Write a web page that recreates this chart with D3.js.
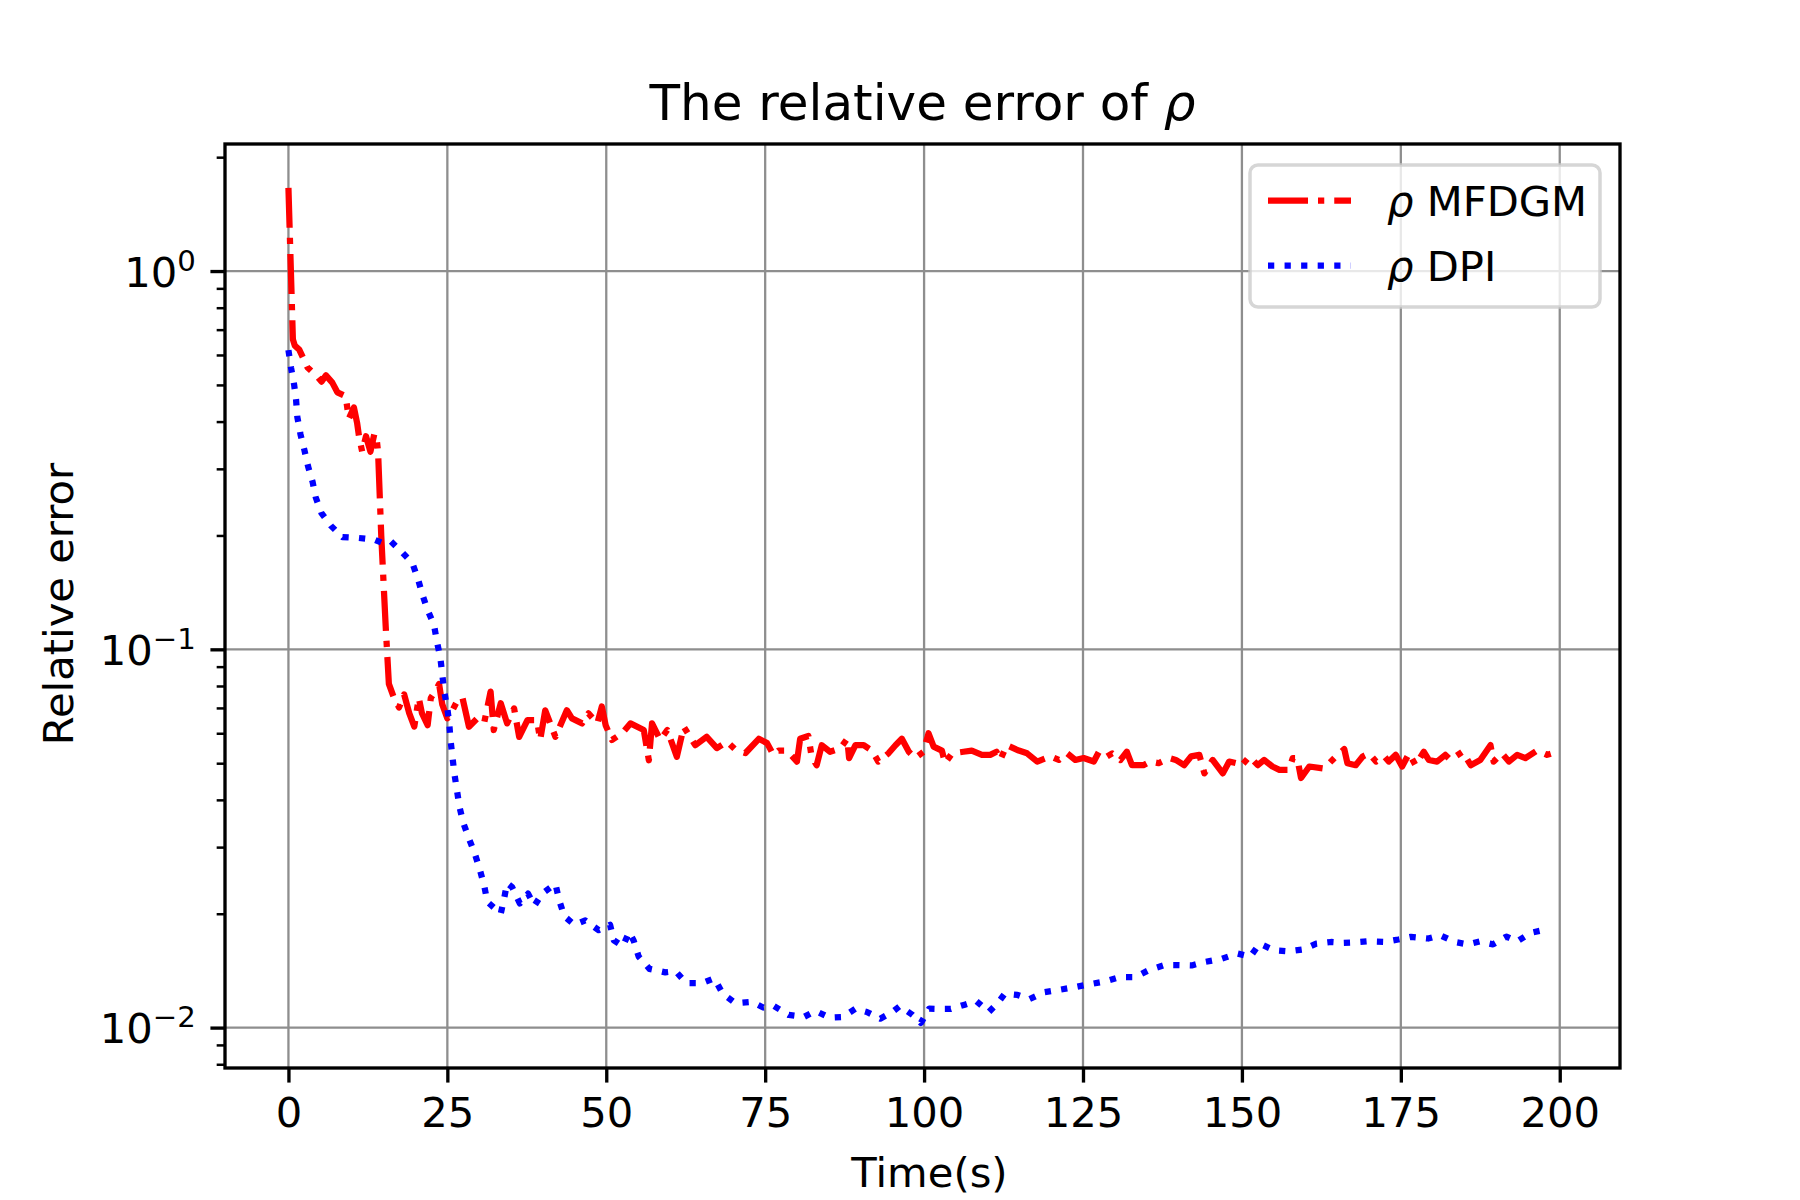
<!DOCTYPE html>
<html>
<head>
<meta charset="utf-8">
<script src="https://cdn.jsdelivr.net/npm/d3@7"></script>
<style>
  html, body { margin: 0; padding: 0; background: #fff; }
  svg { display: block; font-family: "DejaVu Sans", sans-serif; }
</style>
</head>
<body>
<div id="vis"></div>
<script>
// values
var timeMFDGM = [0, 0.7, 1.0, 1.7, 3.0, 4.6, 5.2, 5.9, 6.9, 7.7, 9.0, 9.5, 10.3, 10.8, 11.1, 11.6,
  12.2, 12.9, 13.5, 13.8, 14.1, 14.6, 15.3, 15.8, 16.6, 17.4, 18.2, 19.0, 19.8, 20.5, 21.0, 21.9,
  22.4, 23.2, 23.7, 24.2, 25.0, 25.8, 26.8, 27.4, 28.4, 29.7, 30.8, 31.8, 32.3, 33.4, 34.4, 35.5,
  36.3, 37.6, 39.1, 39.6, 40.4, 42.0, 43.8, 44.6, 46.2, 47.2, 48.6, 49.3, 49.9, 50.9, 52.5, 53.8,
  55.9, 56.7, 57.2, 58.5, 59.6, 61.1, 62.2, 64.0, 65.8, 67.4, 69.0, 70.3, 71.9, 74.0, 75.3, 76.3,
  77.1, 78.4, 80.0, 80.5, 81.8, 82.3, 83.1, 83.9, 85.2, 86.8, 87.9, 88.2, 89.2, 90.5, 91.8, 92.8,
  94.4, 95.5, 96.5, 97.6, 98.6, 99.9, 100.7, 101.5, 102.8, 103.3, 104.4, 106.2, 107.5, 109.1, 110.4,
  111.4, 112.0, 113.0, 114.9, 116.2, 117.8, 119.9, 121.2, 122.5, 123.8, 125.1, 126.7, 127.5, 128.8,
  129.6, 130.9, 131.9, 132.7, 134.5, 135.6, 136.9, 138.6, 139.6, 140.9, 142.0, 143.3, 144.1, 145.4,
  147.0, 148.0, 149.1, 149.8, 151.2, 152.5, 153.5, 154.8, 155.9, 157.4, 158.0, 158.7, 159.3, 160.6,
  162.9, 164.8, 166.1, 166.6, 167.9, 169.0, 170.0, 171.1, 172.4, 173.1, 174.2, 175.2, 176.3, 177.3,
  178.6, 179.4, 180.7, 182.0, 182.8, 184.7, 186.0, 187.5, 189.1, 189.6, 190.9, 192.0, 193.3, 194.6,
  196.4, 198.0, 199.6];

var errMFDGM = [1.66, 0.66, 0.635, 0.62, 0.556, 0.525, 0.51, 0.53, 0.507, 0.478, 0.467, 0.407, 0.436,
  0.397, 0.366, 0.333, 0.366, 0.333, 0.37, 0.37, 0.333, 0.2, 0.115, 0.081, 0.0744, 0.0702, 0.076,
  0.0678, 0.0625, 0.0744, 0.0678, 0.063, 0.0744, 0.078, 0.081, 0.0715, 0.0657, 0.069, 0.0744, 0.0742,
  0.0624, 0.0657, 0.064, 0.0773, 0.0612, 0.072, 0.0637, 0.0698, 0.0587, 0.065, 0.065, 0.0576, 0.069,
  0.0587, 0.069, 0.0657, 0.0637, 0.0677, 0.0637, 0.0706, 0.063, 0.0576, 0.06, 0.0637, 0.0612, 0.0509,
  0.0637, 0.0576, 0.0612, 0.052, 0.0624, 0.0558, 0.0587, 0.0548, 0.057, 0.0543, 0.0532, 0.058, 0.0565,
  0.0526, 0.054, 0.054, 0.0505, 0.058, 0.059, 0.0521, 0.0494, 0.0558, 0.0536, 0.0547, 0.058, 0.0516,
  0.0558, 0.0558, 0.054, 0.0505, 0.0531, 0.0558, 0.058, 0.0536, 0.0516, 0.0536, 0.06, 0.0553, 0.054,
  0.05, 0.0531, 0.0536, 0.054, 0.0526, 0.0526, 0.0536, 0.051, 0.0558, 0.054, 0.0531, 0.0505, 0.0521,
  0.051, 0.0531, 0.051, 0.0516, 0.0505, 0.0536, 0.0521, 0.0531, 0.051, 0.0536, 0.0494, 0.0494, 0.0505,
  0.05, 0.0516, 0.051, 0.0494, 0.0521, 0.0526, 0.047, 0.051, 0.047, 0.0505, 0.05, 0.049, 0.0521,
  0.0494, 0.051, 0.049, 0.048, 0.048, 0.0516, 0.0516, 0.0457, 0.049, 0.0484, 0.0521, 0.0545, 0.05,
  0.0494, 0.0521, 0.0531, 0.0505, 0.0521, 0.0505, 0.0526, 0.049, 0.0531, 0.0494, 0.0536, 0.051,
  0.0505, 0.0526, 0.051, 0.0536, 0.0494, 0.051, 0.0558, 0.0505, 0.0531, 0.0505, 0.0526, 0.0516,
  0.054, 0.0526, 0.0536];

var timeDPI = [0, 0.4, 0.9, 1.2, 1.4, 1.9, 2.5, 3.1, 3.8, 4.3, 5.2, 6.7, 8.5, 11.0, 13.5, 14.8, 16.1,
  17.8, 19.5, 20.4, 21.1, 21.9, 22.9, 23.4, 23.9, 24.5, 25.0, 25.3, 25.5, 25.8, 26.1, 26.5, 26.9,
  27.5, 28.4, 29.3, 30.1, 30.8, 31.3, 33.4, 33.9, 34.4, 35.2, 36.4, 37.7, 38.7, 39.9, 42.0, 42.6,
  43.4, 45.0, 46.7, 48.8, 50.6, 51.2, 52.6, 53.6, 54.3, 55.1, 56.8, 59.3, 60.9, 62.6, 65.0, 67.0,
  68.3, 70.3, 72.9, 74.7, 76.4, 78.7, 81.1, 82.9, 85.1, 87.2, 89.2, 91.0, 93.1, 95.0, 96.2, 98.2,
  99.5, 100.8, 102.4, 104.2, 106.4, 108.2, 110.2, 111.6, 112.7, 114.7, 116.6, 118.9, 121.4, 123.8,
  126.0, 128.5, 130.8, 133.2, 135.4, 137.8, 140.0, 142.1, 144.3, 146.8, 149.3, 151.3, 152.8, 155.1,
  157.3, 159.7, 161.7, 164.0, 166.0, 167.9, 169.7, 172.4, 174.6, 176.6, 179.3, 181.2, 183.5, 185.5,
  187.4, 189.5, 191.6, 193.3, 195.4, 197.7, 198.2];

var errDPI = [0.618, 0.556, 0.50, 0.457, 0.411, 0.37, 0.337, 0.304, 0.277, 0.252, 0.229, 0.212, 0.198,
  0.197, 0.195, 0.191, 0.193, 0.181, 0.169, 0.153, 0.139, 0.127, 0.116, 0.104, 0.095, 0.0775, 0.0698,
  0.0637, 0.0576, 0.052, 0.047, 0.0425, 0.0384, 0.0348, 0.0316, 0.0289, 0.0262, 0.0237, 0.0215, 0.02,
  0.0218, 0.0241, 0.0235, 0.0213, 0.0226, 0.021, 0.0226, 0.024, 0.0217, 0.0197, 0.0187, 0.0192,
  0.0181, 0.0187, 0.017, 0.0164, 0.0179, 0.017, 0.0154, 0.0143, 0.014, 0.0141, 0.0131, 0.0131, 0.0135,
  0.0123, 0.0116, 0.0117, 0.0113, 0.0114, 0.0108, 0.01067, 0.01107, 0.01063, 0.01067, 0.01122, 0.011,
  0.01056, 0.011, 0.0114, 0.0108, 0.01029, 0.01122, 0.0112, 0.0112, 0.0115, 0.01176, 0.011, 0.01162,
  0.0123, 0.0122, 0.0119, 0.0124, 0.0126, 0.0128, 0.01302, 0.01325, 0.0136, 0.0136, 0.0142, 0.01463,
  0.01463, 0.0146, 0.01493, 0.0152, 0.0157, 0.0154, 0.01667, 0.016, 0.0159, 0.0161, 0.01667, 0.01684,
  0.01675, 0.0168, 0.0169, 0.01684, 0.0171, 0.01738, 0.0172, 0.01754, 0.01684, 0.0166, 0.0169, 0.0166,
  0.0174, 0.0169, 0.0178, 0.01815, 0.0185];

var xTicks = [0, 25, 50, 75, 100, 125, 150, 175, 200],
    yMajorTicks = [0.01, 0.1, 1],
    yMajorExp = ['\u22122', '\u22121', '0'],
    yMinorTicks = [0.008, 0.009, 0.02, 0.03, 0.04, 0.05, 0.06, 0.07, 0.08, 0.09,
                   0.2, 0.3, 0.4, 0.5, 0.6, 0.7, 0.8, 0.9, 2];

var seriesNames = ['MFDGM', 'DPI'];

var prefs = {
  width: 1800,
  height: 1200,
  left: 225,
  right: 1620,
  top: 144,
  bottom: 1068,
  xDomain: [-9.98, 209.48],
  yDomain: [0.00782, 2.167],
  font: 41.7,
  pt: 300 / 72
};

var svg = d3.select('#vis').append('svg')
  .attr('width', prefs.width)
  .attr('height', prefs.height);

var x = d3.scaleLinear().domain(prefs.xDomain).range([prefs.left, prefs.right]);
var y = d3.scaleLog().domain(prefs.yDomain).range([prefs.bottom, prefs.top]);

var gridColor = '#8e8e8e',
    gridWidth = 0.55 * prefs.pt;

/* grid */
var grid = svg.append('g');
grid.selectAll('.gx').data(xTicks).enter().append('line')
  .attr('x1', function(d) { return x(d); })
  .attr('x2', function(d) { return x(d); })
  .attr('y1', prefs.top)
  .attr('y2', prefs.bottom)
  .attr('stroke', gridColor)
  .attr('stroke-width', gridWidth);
grid.selectAll('.gy').data(yMajorTicks).enter().append('line')
  .attr('x1', prefs.left)
  .attr('x2', prefs.right)
  .attr('y1', function(d) { return y(d); })
  .attr('y2', function(d) { return y(d); })
  .attr('stroke', gridColor)
  .attr('stroke-width', gridWidth);

/* lines */
svg.append('clipPath').attr('id', 'clip')
  .append('rect')
  .attr('x', prefs.left).attr('y', prefs.top)
  .attr('width', prefs.right - prefs.left)
  .attr('height', prefs.bottom - prefs.top);

var line = d3.line()
  .x(function(d) { return x(d[0]); })
  .y(function(d) { return y(d[1]); });

var lw = 1.5 * prefs.pt;
var series = [
  { name: seriesNames[0], data: d3.zip(timeMFDGM, errMFDGM), color: '#ff0000',
    dash: [6.4 * lw, 1.6 * lw, 1.0 * lw, 1.6 * lw].join(' ') },
  { name: seriesNames[1], data: d3.zip(timeDPI, errDPI), color: '#0000ff',
    dash: [1.0 * lw, 1.65 * lw].join(' ') }
];

var plot = svg.append('g').attr('clip-path', 'url(#clip)');
plot.selectAll('path').data(series).enter().append('path')
  .attr('d', function(d) { return line(d.data); })
  .attr('fill', 'none')
  .attr('stroke', function(d) { return d.color; })
  .attr('stroke-width', lw)
  .attr('stroke-dasharray', function(d) { return d.dash; })
  .attr('stroke-linecap', 'butt')
  .attr('stroke-linejoin', 'round');

/* axes */
var tickLen = 3.5 * prefs.pt,
    tickW = 0.8 * prefs.pt;

var xAxis = svg.append('g')
  .attr('transform', 'translate(0,' + prefs.bottom + ')')
  .call(d3.axisBottom(x).tickValues(xTicks).tickSize(tickLen).tickPadding(tickLen)
    .tickFormat(d3.format('d')));

var yAxis = svg.append('g')
  .attr('transform', 'translate(' + prefs.left + ',0)')
  .call(d3.axisLeft(y).tickValues(yMajorTicks).tickSize(tickLen).tickPadding(tickLen)
    .tickFormat(function() { return ''; }));

svg.append('g')
  .attr('transform', 'translate(' + prefs.left + ',0)')
  .call(d3.axisLeft(y).tickValues(yMinorTicks).tickSize(2 * prefs.pt)
    .tickFormat(function() { return ''; }))
  .call(function(g) {
    g.select('.domain').remove();
    g.selectAll('line').attr('stroke-width', 0.6 * prefs.pt);
  });

[xAxis, yAxis].forEach(function(g) {
  g.select('.domain').remove();
  g.selectAll('line').attr('stroke-width', tickW).attr('stroke', '#000');
  g.selectAll('text')
    .attr('font-family', 'DejaVu Sans')
    .attr('font-size', prefs.font)
    .attr('fill', '#000');
});

xAxis.selectAll('text').attr('dy', '0.71em');

/* y labels as 10^k */
yAxis.selectAll('.tick text').each(function(d, i) {
  var t = d3.select(this).attr('dy', '0.36em').text(null);
  t.append('tspan').text('10');
  t.append('tspan')
    .attr('font-size', prefs.font * 0.7)
    .attr('dy', -16)
    .text(yMajorExp[yMajorTicks.indexOf(d)]);
});

/* spines */
svg.append('rect')
  .attr('x', prefs.left).attr('y', prefs.top)
  .attr('width', prefs.right - prefs.left)
  .attr('height', prefs.bottom - prefs.top)
  .attr('fill', 'none')
  .attr('stroke', '#000')
  .attr('stroke-width', 0.8 * prefs.pt)
  .attr('stroke-linejoin', 'miter');

/* title & labels */
var cx = (prefs.left + prefs.right) / 2;
var title = svg.append('text')
  .attr('x', cx).attr('y', 120)
  .attr('text-anchor', 'middle')
  .attr('font-size', 50)
  .attr('fill', '#000');
title.append('tspan').text('The relative error of ');
title.append('tspan').attr('font-style', 'italic').text('\u03c1');

svg.append('text')
  .attr('x', cx + 7).attr('y', 1187)
  .attr('text-anchor', 'middle')
  .attr('font-size', prefs.font)
  .text('Time(s)');

svg.append('text')
  .attr('transform', 'translate(73,' + ((prefs.top + prefs.bottom) / 2 - 2) + ') rotate(-90)')
  .attr('text-anchor', 'middle')
  .attr('font-size', prefs.font)
  .text('Relative error');

/* legend */
var legend = svg.append('g');
legend.append('rect')
  .attr('x', 1250).attr('y', 165)
  .attr('width', 350).attr('height', 142)
  .attr('rx', 8).attr('ry', 8)
  .attr('fill', '#fff').attr('fill-opacity', 0.8)
  .attr('stroke', '#cccccc').attr('stroke-opacity', 0.8)
  .attr('stroke-width', 3.5);

var items = legend.selectAll('.item').data(series).enter().append('g')
  .attr('transform', function(d, i) { return 'translate(0,' + (200.7 + i * 65) + ')'; });

items.append('line')
  .attr('x1', 1268).attr('x2', 1351)
  .attr('stroke', function(d) { return d.color; })
  .attr('stroke-width', lw)
  .attr('stroke-dasharray', function(d) { return d.dash; });

var labels = items.append('text')
  .attr('x', 1387).attr('y', 15)
  .attr('font-size', prefs.font)
  .attr('fill', '#000');
labels.append('tspan').attr('font-style', 'italic').text('\u03c1');
labels.append('tspan').text(function(d) { return ' ' + d.name; });
</script>
</body>
</html>
